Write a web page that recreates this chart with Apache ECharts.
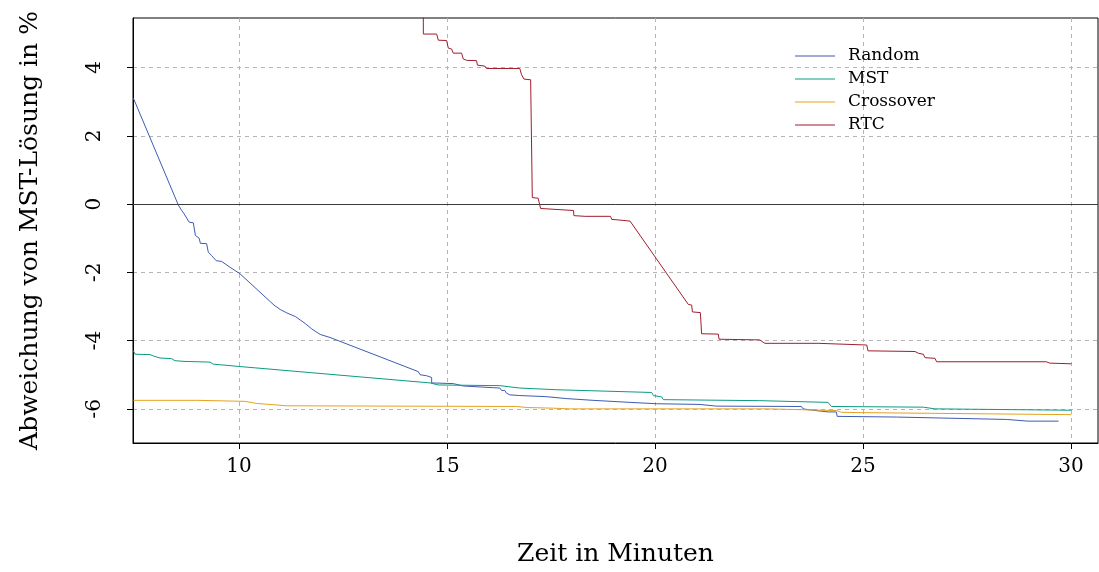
<!DOCTYPE html>
<html>
<head>
<meta charset="utf-8">
<script src="https://cdn.jsdelivr.net/npm/echarts@6/dist/echarts.min.js"></script>
<style>
  html, body { margin: 0; padding: 0; background: #fff; }
  #chart { width: 1099px; height: 572px; }
</style>
</head>
<body>
<div id="chart"></div>
<script>
// Abweichung von der MST-Lösung (%) über der Laufzeit (Minuten)
const seriesNames = ['Random', 'MST', 'Crossover', 'RTC'];
const xTicks = [10, 15, 20, 25, 30];
const yTicks = [-6, -4, -2, 0, 2, 4];

const randomPts = [
  [7.46, 3.10], [8.54, -0.03], [8.62, -0.19], [8.68, -0.29], [8.80, -0.53], [8.90, -0.55],
  [8.95, -0.92], [9.04, -1.00], [9.07, -1.15], [9.22, -1.16], [9.26, -1.41], [9.34, -1.51],
  [9.45, -1.66], [9.58, -1.68], [9.78, -1.85], [10.02, -2.04], [10.84, -2.96], [10.99, -3.09],
  [11.15, -3.19], [11.36, -3.30], [11.59, -3.50], [11.75, -3.66], [11.95, -3.82], [12.19, -3.91],
  [14.31, -4.91], [14.35, -5.00], [14.51, -5.03], [14.63, -5.08], [14.63, -5.24], [15.15, -5.26],
  [15.19, -5.30], [15.39, -5.33], [16.11, -5.38], [16.27, -5.39], [16.31, -5.46], [16.39, -5.46],
  [16.43, -5.54], [16.51, -5.59], [16.75, -5.61], [17.36, -5.64], [17.88, -5.70], [18.51, -5.75],
  [19.40, -5.81], [20.04, -5.85], [21.08, -5.87], [21.48, -5.92], [23.52, -5.93], [23.56, -6.00],
  [23.72, -6.03], [24.16, -6.09], [24.36, -6.09], [24.38, -6.22], [25.81, -6.24], [28.45, -6.31],
  [28.97, -6.36], [29.70, -6.36]
];

const mstPts = [
  [7.46, -4.30], [7.50, -4.40], [7.86, -4.41], [7.94, -4.45], [8.10, -4.51], [8.38, -4.53],
  [8.46, -4.59], [8.70, -4.61], [9.30, -4.63], [9.38, -4.69], [10.02, -4.76], [14.59, -5.24],
  [14.79, -5.30], [16.27, -5.32], [16.31, -5.37], [16.75, -5.39], [17.63, -5.44], [19.92, -5.52],
  [19.96, -5.61], [20.16, -5.65], [20.20, -5.73], [22.52, -5.76], [24.16, -5.81], [24.24, -5.93],
  [26.45, -5.95], [26.73, -6.00], [30.01, -6.04]
];

const crossoverPts = [
  [7.46, -5.75], [8.98, -5.75], [9.02, -5.78], [10.14, -5.78], [10.18, -5.83], [10.42, -5.84],
  [11.15, -5.91], [16.67, -5.93], [16.91, -5.96], [17.55, -5.98], [17.95, -6.00], [22.72, -6.00],
  [22.76, -6.05], [24.36, -6.05], [24.48, -6.10], [24.93, -6.11], [24.97, -6.15], [30.01, -6.17]
];

const rtcPts = [
  [14.43, 5.80], [14.43, 4.98], [14.75, 4.98], [14.79, 4.80], [14.99, 4.79], [15.03, 4.57],
  [15.11, 4.54], [15.15, 4.42], [15.35, 4.42], [15.39, 4.25], [15.47, 4.21], [15.71, 4.20],
  [15.73, 4.07], [15.91, 4.04], [15.95, 3.97], [16.75, 3.97], [16.79, 3.79], [16.85, 3.66],
  [17.01, 3.64], [17.05, 0.19], [17.19, 0.17], [17.25, -0.13], [17.79, -0.17], [18.04, -0.19],
  [18.05, -0.34], [18.32, -0.36], [18.93, -0.36], [18.96, -0.45], [19.16, -0.47], [19.20, -0.50],
  [19.40, -0.50], [20.80, -2.94], [20.88, -2.96], [20.90, -3.16], [21.09, -3.18], [21.12, -3.80],
  [21.52, -3.81], [21.54, -3.96], [22.52, -3.98], [22.64, -4.08], [23.92, -4.08], [23.96, -4.13],
  [25.09, -4.13], [25.12, -4.30], [26.25, -4.32], [26.33, -4.37], [26.45, -4.40], [26.49, -4.50],
  [26.73, -4.52], [26.77, -4.62], [29.41, -4.62], [29.49, -4.66], [30.01, -4.68]
];

const seriesData = [randomPts, mstPts, crossoverPts, rtcPts];
const colors = ['#3d5cb2', '#0a9c80', '#e6a21e', '#a11d2d'];

const FONT = 'DejaVu Serif';
const chart = echarts.init(document.getElementById('chart'), null, { renderer: 'canvas' });

const gridLine = { show: true, lineStyle: { color: '#b4b4b4', type: [4, 4], width: 1 } };

const series = seriesNames.map((name, i) => ({
  name,
  type: 'line',
  data: seriesData[i],
  showSymbol: false,
  symbol: 'none',
  clip: true,
  z: 3 + i,
  lineStyle: { color: colors[i], width: 1 },
  itemStyle: { color: colors[i] }
}));

// horizontal reference at 0 %
series[0].markLine = {
  silent: true,
  symbol: 'none',
  label: { show: false },
  lineStyle: { color: '#3a3a3a', type: 'solid', width: 1 },
  data: [{ yAxis: 0 }]
};

chart.setOption({
  animation: false,
  backgroundColor: '#ffffff',
  color: colors,
  grid: {
    left: 133, right: 1, top: 18, bottom: 127,
    show: true, borderColor: '#000', borderWidth: 1, backgroundColor: 'transparent'
  },
  legend: {
    data: seriesNames,
    orient: 'vertical',
    left: 790, top: 41,
    icon: 'rect',
    itemWidth: 40, itemHeight: 1,
    itemGap: 3,
    textStyle: { fontFamily: FONT, fontSize: 17, color: '#000', lineHeight: 20, padding: [0, 0, 0, 8] }
  },
  xAxis: {
    type: 'value',
    min: 7.45, max: 30.65,
    name: 'Zeit in Minuten',
    nameLocation: 'middle',
    nameGap: 99,
    nameTextStyle: { fontFamily: FONT, fontSize: 25, color: '#000' },
    axisLine: { show: true, onZero: false, lineStyle: { color: '#000', width: 1 } },
    axisTick: { show: true, customValues: xTicks, length: 6, inside: false, lineStyle: { color: '#000' } },
    axisLabel: { customValues: xTicks, margin: 14, fontFamily: FONT, fontSize: 20, color: '#000' },
    splitLine: gridLine
  },
  yAxis: {
    type: 'value',
    min: -7.0, max: 5.45,
    name: 'Abweichung von MST-Lösung in %',
    nameLocation: 'middle',
    nameGap: 90,
    nameRotate: 90,
    nameTextStyle: { fontFamily: FONT, fontSize: 25, color: '#000' },
    axisLine: { show: true, onZero: false, lineStyle: { color: '#000', width: 1 } },
    axisTick: { show: true, customValues: yTicks, length: 6, inside: false, lineStyle: { color: '#000' } },
    axisLabel: { customValues: yTicks, rotate: 90, margin: 28, fontFamily: FONT, fontSize: 20, color: '#000' },
    splitLine: gridLine
  },
  series
});
</script>
</body>
</html>
